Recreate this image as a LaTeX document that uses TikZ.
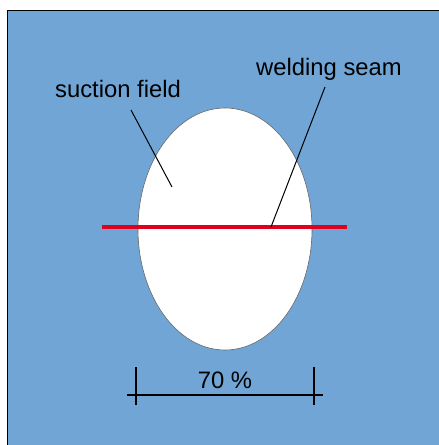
\documentclass[tikz,border=0pt]{standalone}
\usepackage{fontspec}
\usetikzlibrary{shapes.geometric}
\setmainfont{Liberation Sans}
\definecolor{bgblue}{RGB}{112,165,214}
\definecolor{seamred}{RGB}{222,0,30}
\begin{document}
\begin{tikzpicture}[x=1pt,y=-1pt,
  lbl/.style={font=\fontsize{23.8}{26}\selectfont, inner sep=0pt},
  ptr/.style={draw=black, line width=1pt},
  dim/.style={draw=black, line width=1.2pt}]
\useasboundingbox (0,0) rectangle (439,445);
\fill[white] (0,0) rectangle (439,445);
\draw[fill=bgblue, draw=black, line width=1pt] (7,10) rectangle (445,450);
\node[draw=gray!80!black, line width=0.6pt, fill=white, ellipse, minimum width=174, minimum height=242, inner sep=0pt] (field) at (225,229) {};
\coordinate (sl) at (102,227);
\coordinate (sr) at (347,227);
\draw[seamred, line width=4pt] (sl) -- (sr);
\node[lbl] (suction) at (118,89) {suction field};
\node[lbl] (seam) at (329,69) {welding seam};
\coordinate (sp) at (172,187);
\coordinate (wp) at (271,227);
\draw[ptr] (131,110) -- (sp);
\draw[ptr] (325,87) -- (wp);
\coordinate (dl) at (127,395);
\coordinate (dr) at (323,395);
\draw[dim] (dl) -- (dr);
\draw[dim] (136,367) -- (136,405);
\draw[dim] (314,367) -- (314,405);
\node[lbl] (pct) at (225,380) {70 \%};
\end{tikzpicture}
\end{document}
